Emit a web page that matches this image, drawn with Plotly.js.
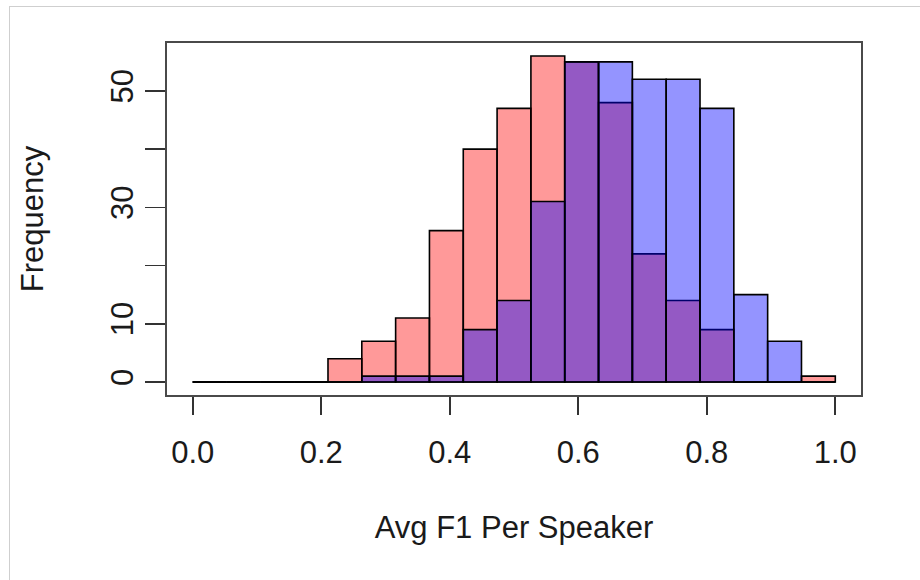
<!DOCTYPE html>
<html>
<head>
<meta charset="utf-8">
<script src="https://cdn.plot.ly/plotly-3.0.1.min.js"></script>
<style>
  html, body { margin: 0; padding: 0; background: #ffffff; }
  #chart { width: 920px; height: 580px; position: absolute; left: 0; top: 0; }
  #frame { position: absolute; left: 9px; top: 6px; width: 911px; height: 574px;
           border-top: 1px solid #cfcfcf; border-left: 1px solid #cfcfcf;
           pointer-events: none; box-sizing: border-box; }
</style>
</head>
<body>
<div id="chart"></div>
<div id="frame"></div>
<script>
// Histogram of average F1 per speaker: 19 equal-width bins on [0, 1]
var nBins = 19;
var binLow = 0.0;
var binHigh = 1.0;
var redCounts  = [0, 0, 0, 0, 4, 7, 11, 26, 40, 47, 56, 55, 48, 22, 14, 9, 0, 0, 1];
var blueCounts = [0, 0, 0, 0, 0, 1, 1, 1, 9, 14, 31, 55, 55, 52, 52, 47, 15, 7, 0];
var xTickVals = [0.0, 0.2, 0.4, 0.6, 0.8, 1.0];
var xTickText = ['0.0', '0.2', '0.4', '0.6', '0.8', '1.0'];
var yTickVals = [0, 10, 20, 30, 40, 50];
var yTickText = ['0', '10', '', '30', '', '50'];

var binWidth = (binHigh - binLow) / nBins;
var centers = redCounts.map(function (_, i) { return binLow + (i + 0.5) * binWidth; });

// zero-count bins are drawn by R as a flat line on the baseline
function zeroSegments(counts) {
  var xs = [], ys = [];
  counts.forEach(function (c, i) {
    if (c === 0) {
      xs.push(binLow + i * binWidth, binLow + (i + 1) * binWidth, null);
      ys.push(0, 0, null);
    }
  });
  return {x: xs, y: ys};
}
var zr = zeroSegments(redCounts);
var zb = zeroSegments(blueCounts);

var font = 'Liberation Sans, Arial, Helvetica, sans-serif';
var fs = 31;

var traces = [
  {
    type: 'bar', x: centers, y: redCounts, width: binWidth,
    marker: {color: 'rgba(255,0,0,0.4)', line: {color: '#000000', width: 1.6}},
    hoverinfo: 'x+y', showlegend: false
  },
  {
    type: 'bar', x: centers, y: blueCounts, width: binWidth,
    marker: {color: 'rgba(0,0,255,0.42)', line: {color: '#000000', width: 1.6}},
    hoverinfo: 'x+y', showlegend: false
  },
  {
    type: 'scatter', mode: 'lines', x: zr.x.concat(zb.x), y: zr.y.concat(zb.y),
    line: {color: '#000000', width: 1.6}, hoverinfo: 'skip', showlegend: false
  }
];

var layout = {
  width: 920, height: 580,
  margin: {l: 167, r: 59, t: 43, b: 185, pad: 0},
  paper_bgcolor: '#ffffff', plot_bgcolor: '#ffffff',
  barmode: 'overlay', bargap: 0,
  font: {family: font, size: fs, color: '#1a1a1a'},
  xaxis: {
    range: [-0.04, 1.04], autorange: false, fixedrange: true,
    showgrid: false, zeroline: false,
    showline: true, mirror: true, linecolor: '#4a4a4a', linewidth: 1.8,
    ticks: 'outside', ticklen: 18, tickwidth: 1.6, tickcolor: '#333333',
    tickmode: 'array', tickvals: xTickVals, ticktext: xTickText,
    tickfont: {family: font, size: fs, color: '#1a1a1a'},
    ticklabelstandoff: 11,
    title: {text: 'Avg F1 Per Speaker', font: {family: font, size: fs, color: '#1a1a1a'}, standoff: 47}
  },
  yaxis: {
    range: [-2.24, 58.24], autorange: false, fixedrange: true,
    showgrid: false, zeroline: false,
    showline: true, mirror: true, linecolor: '#4a4a4a', linewidth: 1.8,
    ticks: 'outside', ticklen: 20, tickwidth: 1.6, tickcolor: '#333333',
    tickmode: 'array', tickvals: yTickVals, ticktext: yTickText,
    tickangle: -90,
    tickfont: {family: font, size: fs, color: '#1a1a1a'},
    title: {text: 'Frequency', font: {family: font, size: fs, color: '#1a1a1a'}, standoff: 52}
  }
};

Plotly.newPlot('chart', traces, layout, {displayModeBar: false, staticPlot: true});
</script>
</body>
</html>
